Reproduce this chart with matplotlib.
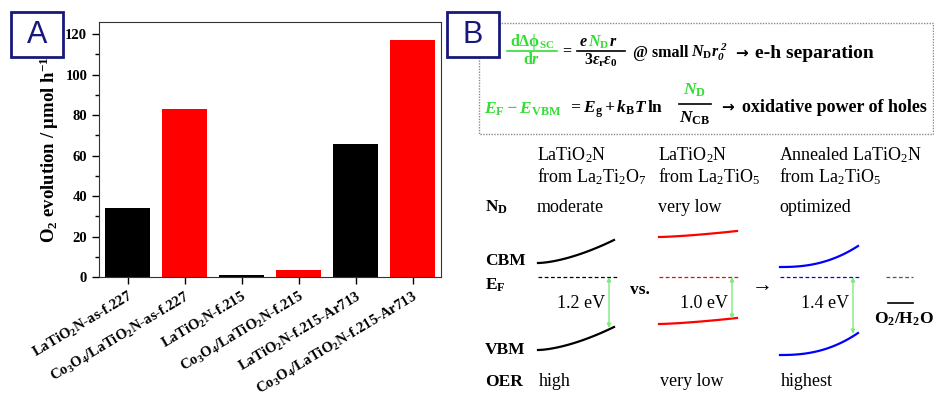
import numpy as np
import matplotlib.pyplot as plt
from matplotlib.patches import Rectangle
from matplotlib.ticker import MultipleLocator

plt.rcParams['mathtext.default'] = 'regular'
plt.rcParams['mathtext.fontset'] = 'custom'
plt.rcParams['mathtext.rm'] = 'Liberation Serif:bold'
plt.rcParams['mathtext.it'] = 'Liberation Serif:bold:italic'
plt.rcParams['mathtext.bf'] = 'Liberation Serif:bold'

SERIF = ['Liberation Serif', 'DejaVu Serif']
NAVY = '#18187c'
GREEN = '#33dd33'
ARROW_GREEN = '#7fea7f'

# --- panel A data: O2 evolution rates
samples = [r'LaTiO$_2$N-as-f.227', r'Co$_3$O$_4$/LaTiO$_2$N-as-f.227',
           r'LaTiO$_2$N-f.215', r'Co$_3$O$_4$/LaTiO$_2$N-f.215',
           r'LaTiO$_2$N-f.215-Ar713', r'Co$_3$O$_4$/LaTiO$_2$N-f.215-Ar713']
o2_rate = [34, 83, 1, 3.5, 65.5, 117]
bar_colors = ['black', 'red', 'black', 'red', 'black', 'red']

# --- panel B data: band diagrams
col_title = [r'LaTiO$_2$N', r'LaTiO$_2$N', r'Annealed LaTiO$_2$N']
col_source = [r'from La$_2$Ti$_2$O$_7$', r'from La$_2$TiO$_5$', r'from La$_2$TiO$_5$']
nd_level = ['moderate', 'very low', 'optimized']
oer_level = ['high', 'very low', 'highest']
gap_ev = [1.2, 1.0, 1.4]
band_colors = ['black', 'red', 'blue']
band_x0 = [538, 659, 780]
band_x1 = [614, 737, 858]
cbm_y0 = [263, 237, 267]
cbm_y1 = [240, 231, 246]
vbm_y0 = [350, 324, 355]
vbm_y1 = [327, 318, 333]
bend_power = [1.6, 1.4, 2.4]
fermi_y = 277

fig = plt.figure(figsize=(9.34, 3.97), dpi=100)

# ---------------- panel A ----------------
ax = fig.add_axes([99 / 934, 1 - 277 / 397, 342 / 934, 255 / 397])
x = np.arange(1, len(samples) + 1)
ax.bar(x, o2_rate, width=0.8, color=bar_colors)
ax.set_xlim(0.5, 6.5)
ax.set_ylim(0, 126)
ax.yaxis.set_major_locator(MultipleLocator(20))
ax.yaxis.set_minor_locator(MultipleLocator(10))
ax.tick_params(axis='both', which='major', direction='out', length=5, width=1)
ax.tick_params(axis='y', which='minor', direction='out', length=3, width=1)
ax.set_xticks(x)
ax.set_xticklabels(samples, rotation=31, ha='right', rotation_mode='anchor',
                   family=SERIF, fontweight='bold', fontsize=10.6)
for lab in ax.get_yticklabels():
    lab.set_family(SERIF)
    lab.set_fontweight('bold')
    lab.set_fontsize(10.5)
ax.set_ylabel(r'O$_2$ evolution / μmol h$^{-1}$', family=SERIF,
              fontweight='bold', fontsize=13.5, labelpad=3)
for sp in ax.spines.values():
    sp.set_color('#333333')

# ---------------- overlay in pixel coordinates ----------------
ov = fig.add_axes([0, 0, 1, 1], facecolor='none')
ov.set_xlim(0, 934)
ov.set_ylim(397, 0)
ov.axis('off')

# dotted frame around the equations
ov.add_patch(Rectangle((479, 23), 454, 111, fill=False, edgecolor='#8a8a8a',
                       linestyle=(0, (1, 1)), linewidth=1))

# panel letters
for lx, letter in [(11, 'A'), (447, 'B')]:
    ov.add_patch(Rectangle((lx, 12), 52, 45, facecolor='white',
                           edgecolor=NAVY, linewidth=2))
    ov.text(lx + 26, 35, letter, ha='center', va='center', color=NAVY,
            family=['Liberation Sans', 'DejaVu Sans'], fontsize=22)

eq = dict(family=SERIF, fontweight='bold', fontsize=11.5, va='center')
eq2 = dict(family=SERIF, fontweight='bold', fontsize=12.5, va='center')
note = dict(family=SERIF, fontweight='bold', fontsize=13, va='center')
arrow = dict(family=['DejaVu Sans'], fontweight='bold', fontsize=11,
             va='center')

# equation 1
ov.text(532, 42, r'd$\Delta$$\phi_{\mathrm{SC}}$', ha='center', color=GREEN,
        **eq)
ov.text(532, 60, r'd$\mathit{r}$', ha='center', color=GREEN, **eq)
ov.plot([507, 557], [51, 51], color=GREEN, lw=1.2)
ov.text(567, 51, '=', ha='center', **eq)
ov.text(580, 42, 'e', ha='left', style='italic', **eq)
ov.text(588, 42, r'$N_{\mathrm{D}}$', ha='left', style='italic', color=GREEN,
        **eq)
ov.text(610, 42, 'r', ha='left', style='italic', **eq)
ov.text(601, 60, r'3$\mathit{\varepsilon}_{\mathrm{r}}\mathit{\varepsilon}_{0}$',
        ha='center', **eq)
ov.plot([577, 625], [51, 51], color='black', lw=1.2)
ov.text(633, 53, '@ small', ha='left', **eq)
ov.text(691, 52, r'$N_{\mathrm{D}}r_{0}^{\ 2}$', ha='left', style='italic',
        **eq)
ov.text(735, 53, '→', ha='left', **arrow)
ov.text(755, 53, 'e-h separation', ha='left', **dict(note, fontsize=14))

# equation 2
ov.text(484, 109, r'$E_{\mathrm{F}} - E_{\mathrm{VBM}}$', ha='left',
        style='italic', color=GREEN, **eq2)
ov.text(568, 109, r'$= E_{\mathrm{g}} + k_{\mathrm{B}}T\,\mathrm{ln}$',
        ha='left', style='italic', **eq2)
ov.text(695, 90, r'$N_{\mathrm{D}}$', ha='center', style='italic',
        color=GREEN, **eq2)
ov.text(695, 118, r'$N_{\mathrm{CB}}$', ha='center', style='italic', **eq2)
ov.plot([679, 711], [104, 104], color='black', lw=1.2)
ov.text(721, 107, '→', ha='left', **arrow)
ov.text(742, 107, 'oxidative power of holes', ha='left', **note)

# band diagram labels
txt = dict(family=SERIF, fontsize=13, va='center')
bold = dict(family=SERIF, fontsize=12.5, va='center', fontweight='bold')
ov.text(485, 207, r'N$_{\mathrm{D}}$', ha='left', **bold)
ov.text(485, 261, 'CBM', ha='left', **bold)
ov.text(485, 285, r'E$_{\mathrm{F}}$', ha='left', **bold)
ov.text(485, 350, 'VBM', ha='left', **bold)
ov.text(485, 382, 'OER', ha='left', **bold)

t = np.linspace(0, 1, 60)
for i in range(3):
    c = band_colors[i]
    xl = band_x0[i]
    ov.text(xl - 1, 155, col_title[i], ha='left', **txt)
    ov.text(xl - 1, 177, col_source[i], ha='left', **txt)
    ov.text(xl - 1, 207, nd_level[i], ha='left', **txt)
    ov.text(xl + 1, 382, oer_level[i], ha='left', **txt)

    xs = band_x0[i] + (band_x1[i] - band_x0[i]) * t
    bend = t ** bend_power[i]
    ov.plot(xs, cbm_y0[i] + (cbm_y1[i] - cbm_y0[i]) * bend, color=c, lw=1.6)
    ov.plot(xs, vbm_y0[i] + (vbm_y1[i] - vbm_y0[i]) * bend, color=c, lw=1.6)
    ov.plot([band_x0[i], band_x1[i] + 3], [fermi_y, fermi_y], color=c,
            lw=0.9, linestyle=(0, (3, 2)))

    ax_x = band_x1[i] - 5
    ov.annotate('', xy=(ax_x, vbm_y1[i] + 1), xytext=(ax_x, fermi_y),
                arrowprops=dict(arrowstyle='<|-|>', color=ARROW_GREEN, lw=1,
                                mutation_scale=6, shrinkA=0, shrinkB=0))
    ov.text(ax_x - 4, 304, f'{gap_ev[i]:.1f} eV', ha='right', **txt)

ov.text(640, 290, 'vs.', ha='center', **bold)
ov.text(762, 287, '→', ha='center', family=SERIF, fontsize=15, va='center')

# O2/H2O redox level
ov.plot([886, 913], [fermi_y, fermi_y], color='#555555', lw=0.9,
        linestyle=(0, (3, 2)))
ov.plot([888, 913], [303, 303], color='black', lw=1.2)
ov.text(904, 319, r'O$_2$/H$_2$O', ha='center', **bold)

fig.savefig('out.png', dpi=100)
